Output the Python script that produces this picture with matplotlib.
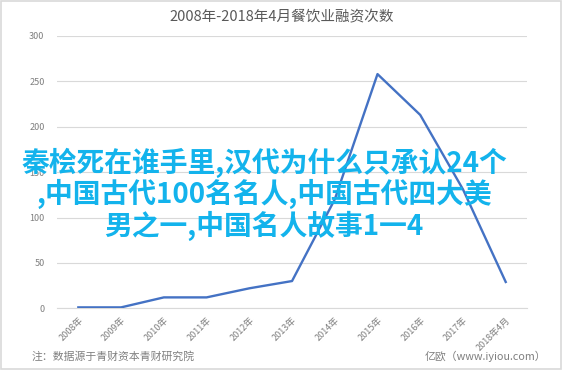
import matplotlib
matplotlib.use("Agg")
import matplotlib.pyplot as plt
from matplotlib.patches import Rectangle

plt.rcParams['font.family'] = ['Noto Sans CJK SC', 'DejaVu Sans']

# 数据
years = ["2008年", "2009年", "2010年", "2011年", "2012年", "2013年",
         "2014年", "2015年", "2016年", "2017年", "2018年4月"]
counts = [1, 1, 12, 12, 22, 30, 120, 258, 213, 131, 29]
y_ticks = [0, 50, 100, 150, 200, 250, 300]

title = "2008年-2018年4月餐饮业融资次数"
note_left = "注：数据源于青财资本青财研究院"
note_right = "亿欧（www.iyiou.com）"
overlay = "秦桧死在谁手里,汉代为什么只承认24个\n,中国古代100名名人,中国古代四大美\n男之一,中国名人故事1一4"

grid_c = "#d9d9d9"
text_c = "#7f7f7f"

fig = plt.figure(figsize=(5.63, 3.70), dpi=100)
ax = fig.add_axes([0.1012, 0.1668, 0.835, 0.736])

x = list(range(len(years)))
ax.plot(x, counts, color="#4472c4", linewidth=1.7, zorder=5)

ax.set_xlim(-0.5, len(years) - 0.5)
ax.set_ylim(0, 300)
ax.set_yticks(y_ticks)
ax.set_xticks(x)
ax.set_xticklabels(years, rotation=45, ha="right", rotation_mode="anchor")
ax.tick_params(axis="both", length=0, labelsize=6.5, labelcolor=text_c)
ax.tick_params(axis="y", pad=9)
ax.tick_params(axis="x", pad=5)
ax.grid(axis="y", color=grid_c, linewidth=0.8)
ax.set_axisbelow(True)
for s in ["top", "right", "left"]:
    ax.spines[s].set_visible(False)
ax.spines["bottom"].set_color(grid_c)
ax.spines["bottom"].set_linewidth(0.8)

# 标题和注释
fig.text(0.5, 1 - 17 / 370, title, ha="center", va="center",
         fontsize=10.5, color="#595959")
fig.text(32 / 563, 1 - 356 / 370, note_left, ha="left", va="center",
         fontsize=7.8, color=text_c)
fig.text(546 / 563, 1 - 356 / 370, note_right, ha="right", va="center",
         fontsize=7.8, color=text_c)

# 水印大字
fig.text(264 / 563, 1 - 194 / 370, overlay, ha="center", va="center",
         multialignment="center", fontsize=20, fontweight="bold",
         color="#13b3ec", linespacing=1.05, zorder=3)

# 外框
fig.patches.append(Rectangle((0.002, 0.003), 0.994, 0.994, transform=fig.transFigure,
                             fill=False, edgecolor=grid_c, linewidth=1.2))

fig.savefig("out.png", dpi=100)
